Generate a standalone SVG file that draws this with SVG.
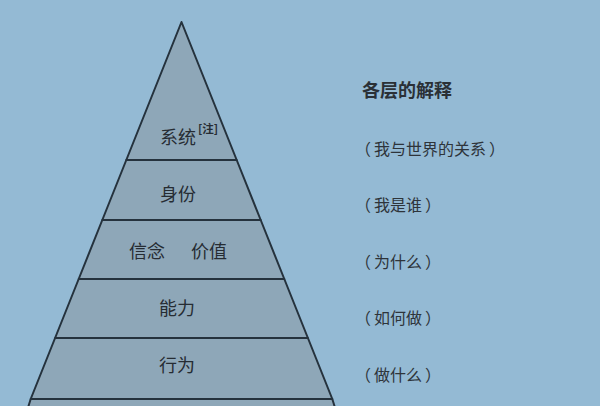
<svg xmlns="http://www.w3.org/2000/svg" width="600" height="406" viewBox="0 0 600 406">
<style>
.layer{fill:#8ea7b8;stroke:#25323d;stroke-width:2;stroke-linejoin:round}
.lbl{font-family:"Noto Sans CJK SC","Noto Sans",sans-serif;font-size:18px;fill:#262c33}
.note{font-family:"Noto Sans CJK SC","Noto Sans",sans-serif;font-size:11.5px;fill:#262c33;font-weight:bold}
.hdr{font-family:"Noto Sans CJK SC","Noto Sans",sans-serif;font-size:18px;font-weight:bold;fill:#2a3036}
.exp{font-family:"Noto Sans CJK SC","Noto Sans",sans-serif;font-size:16px;fill:#2e343a}
</style>
<rect x="0" y="0" width="600" height="406" fill="#94bad4"/>
<g id="pyramid">
<g id="layer-system">
<polygon class="layer" points="181.5,22 236.7,160 126.3,160"/>
<text class="lbl" x="160" y="144">系统</text>
<text class="note" x="198" y="133">[注]</text>
</g>
<g id="layer-identity">
<polygon class="layer" points="126.3,160 236.7,160 260.7,220 102.3,220"/>
<text class="lbl" x="160" y="201">身份</text>
</g>
<g id="layer-belief">
<polygon class="layer" points="102.3,220 260.7,220 284.3,279 78.7,279"/>
<text class="lbl" x="129" y="258">信念</text>
<text class="lbl" x="191" y="258">价值</text>
</g>
<g id="layer-ability">
<polygon class="layer" points="78.7,279 284.3,279 307.9,338 55.1,338"/>
<text class="lbl" x="159" y="315">能力</text>
</g>
<g id="layer-behavior">
<polygon class="layer" points="55.1,338 307.9,338 332.3,399 30.7,399"/>
<text class="lbl" x="159" y="372">行为</text>
</g>
<g id="layer-bottom">
<polygon class="layer" points="30.7,399 332.3,399 335.1,408 27.9,408"/>
</g>
</g>
<g id="connectors"></g>
<g id="explanations">
<g id="exp-header"><text class="hdr" x="362" y="97">各层的解释</text></g>
<g id="exp-system"><text class="exp" x="355" y="155">（<tspan dx="3">我与世界的关系</tspan><tspan dx="3">）</tspan></text></g>
<g id="exp-identity"><text class="exp" x="355" y="211">（<tspan dx="3">我是谁</tspan><tspan dx="3">）</tspan></text></g>
<g id="exp-belief"><text class="exp" x="355" y="268">（<tspan dx="3">为什么</tspan><tspan dx="3">）</tspan></text></g>
<g id="exp-ability"><text class="exp" x="355" y="324">（<tspan dx="3">如何做</tspan><tspan dx="3">）</tspan></text></g>
<g id="exp-behavior"><text class="exp" x="355" y="381">（<tspan dx="3">做什么</tspan><tspan dx="3">）</tspan></text></g>
</g>
</svg>
